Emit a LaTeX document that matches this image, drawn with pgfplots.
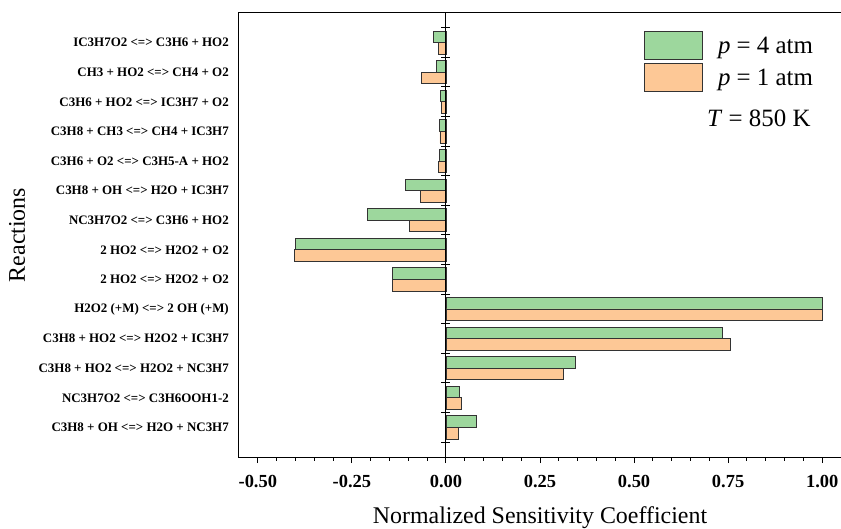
\documentclass[border=0pt]{standalone}
\usepackage{fontspec}
\setmainfont{Liberation Serif}
\usepackage{pgfplots}
\pgfplotsset{compat=1.18}

\definecolor{barGreen}{HTML}{9DD79D}
\definecolor{barOrange}{HTML}{FDC896}

\pgfplotsset{
  boxlegend/.style={legend image code/.code={\draw[##1] (0bp,-14bp) rectangle (58bp,14bp);}},
}

\begin{document}
\begin{tikzpicture}
\begin{axis}[
  scale only axis, width=602bp, height=444bp,
  xbar, bar width=0.39,
  xmin=-0.55, xmax=1.05, ymin=0, ymax=15,
  axis line style={black, line width=1bp},
  xtick={-0.5,-0.25,0,0.25,0.5,0.75,1},
  minor x tick num=4,
  xtick pos=left, ytick pos=left,
  tick align=outside,
  major tick length=6bp, minor tick length=3.5bp,
  tick style={black, line width=0.9bp},
  xticklabel style={font=\fontsize{18.5}{20}\selectfont\bfseries, anchor=base, yshift=-24bp},
  /pgf/number format/assume math mode=true,
  /pgf/number format/fixed, /pgf/number format/fixed zerofill, /pgf/number format/precision=2,
  ytick={1,...,14},
  y tick style={draw=none},
  yticklabels={
    {C3H8 + OH <=> H2O + NC3H7},
    {NC3H7O2 <=> C3H6OOH1-2},
    {C3H8 + HO2 <=> H2O2 + NC3H7},
    {C3H8 + HO2 <=> H2O2 + IC3H7},
    {H2O2 (+M) <=> 2 OH (+M)},
    {2 HO2 <=> H2O2 + O2},
    {2 HO2 <=> H2O2 + O2},
    {NC3H7O2 <=> C3H6 + HO2},
    {C3H8 + OH <=> H2O + IC3H7},
    {C3H6 + O2 <=> C3H5-A + HO2},
    {C3H8 + CH3 <=> CH4 + IC3H7},
    {C3H6 + HO2 <=> IC3H7 + O2},
    {CH3 + HO2 <=> CH4 + O2},
    {IC3H7O2 <=> C3H6 + HO2}},
  yticklabel style={font=\fontsize{13}{14}\selectfont\bfseries, anchor=east, inner sep=0pt, xshift=-4bp},
  xlabel={Normalized Sensitivity Coefficient},
  xlabel style={font=\fontsize{24}{26}\selectfont, at={(axis description cs:0.5,0)}, anchor=base, yshift=-66bp},
  ylabel={Reactions},
  ylabel style={font=\fontsize{24}{26}\selectfont, at={(axis description cs:0,0.5)}, anchor=base, yshift=214bp},
  legend style={draw=none, fill=none, inner sep=0pt, at={(0.6728,0.9595)}, anchor=north west,
    font=\fontsize{25}{27}\selectfont, row sep=3.5bp, column sep=15bp, nodes={inner sep=0pt}},
  legend cell align=left,
]
\addplot[xbar, boxlegend, bar shift=0.195, fill=barGreen, draw=black!80, line width=0.8bp] coordinates {
  (-0.034,14) (-0.026,13) (-0.015,12) (-0.017,11) (-0.017,10) (-0.108,9) (-0.209,8)
  (-0.401,7) (-0.141,6) (1.000,5) (0.736,4) (0.345,3) (0.035,2) (0.080,1)};
\addplot[xbar, boxlegend, bar shift=-0.195, fill=barOrange, draw=black!80, line width=0.8bp] coordinates {
  (-0.019,14) (-0.066,13) (-0.012,12) (-0.016,11) (-0.019,10) (-0.067,9) (-0.096,8)
  (-0.403,7) (-0.141,6) (1.000,5) (0.755,4) (0.313,3) (0.042,2) (0.032,1)};
\legend{\textit{p} = 4 atm, \textit{p} = 1 atm}
\node[anchor=base west, font=\fontsize{25}{27}\selectfont, inner sep=0pt] at (rel axis cs:0.7774,0.745) {\textit{T} = 850 K};
\end{axis}
\begin{axis}[
  scale only axis, width=602bp, height=444bp,
  xmin=-0.55, xmax=1.05, ymin=0, ymax=15,
  axis x line=none, axis y line=middle,
  y axis line style={-, black, line width=1bp},
  xtick=\empty,
  ytick={0.5,1.5,...,14.5}, yticklabels={},
  tick align=center, major tick length=9bp,
  tick style={black, line width=1bp},
]
\end{axis}
\pgfresetboundingbox
\path ([shift={(-239bp,-72bp)}]current axis.south west) rectangle ([shift={(0bp,13bp)}]current axis.north east);
\end{tikzpicture}
\end{document}
